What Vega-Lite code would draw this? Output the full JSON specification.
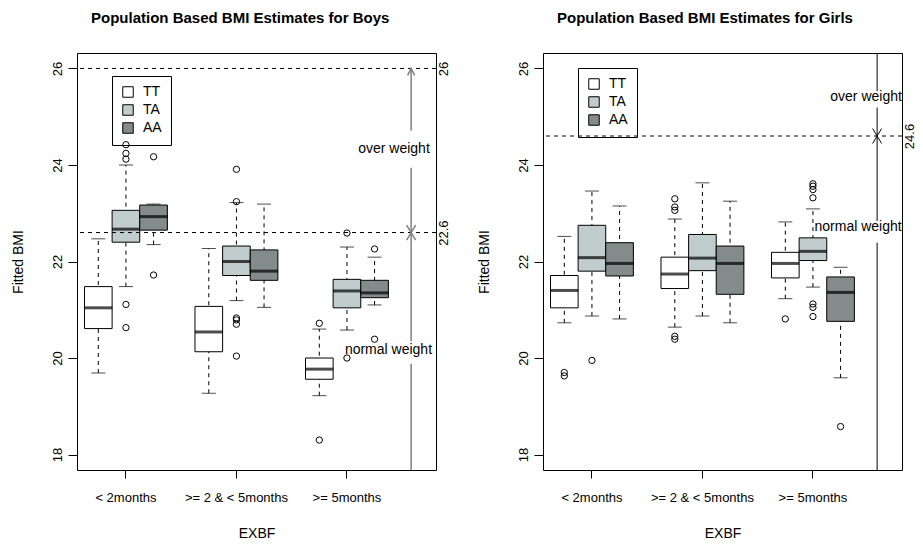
{
  "$schema": "https://vega.github.io/schema/vega-lite/v6.json",
  "background": "white",
  "padding": {"left": 10, "top": 10, "right": 5, "bottom": 5},
  "bounds": "flush",
  "spacing": 107,
  "config": {
    "font": "Liberation Sans",
    "view": {"stroke": "black", "strokeWidth": 1},
    "axis": {"labelFont": "Liberation Sans", "titleFont": "Liberation Sans", "labelColor": "black", "titleColor": "black", "tickColor": "black", "titleFontWeight": "normal", "labelFontSize": 13, "titleFontSize": 14, "grid": false}
  },
  "datasets": {
    "boys": [
      {"EXBF": "< 2months", "genotype": "TT", "lo": 19.69, "q1": 20.61, "med": 21.04, "q3": 21.48, "hi": 22.47},
      {"EXBF": "< 2months", "genotype": "TA", "lo": 21.48, "q1": 22.40, "med": 22.67, "q3": 23.06, "hi": 24.00},
      {"EXBF": "< 2months", "genotype": "AA", "lo": 22.35, "q1": 22.65, "med": 22.93, "q3": 23.17, "hi": 23.19},
      {"EXBF": ">= 2 & < 5months", "genotype": "TT", "lo": 19.27, "q1": 20.13, "med": 20.54, "q3": 21.07, "hi": 22.27},
      {"EXBF": ">= 2 & < 5months", "genotype": "TA", "lo": 21.19, "q1": 21.71, "med": 22.00, "q3": 22.32, "hi": 23.22},
      {"EXBF": ">= 2 & < 5months", "genotype": "AA", "lo": 21.05, "q1": 21.61, "med": 21.80, "q3": 22.24, "hi": 23.19},
      {"EXBF": ">= 5months", "genotype": "TT", "lo": 19.22, "q1": 19.56, "med": 19.77, "q3": 20.00, "hi": 20.60},
      {"EXBF": ">= 5months", "genotype": "TA", "lo": 20.58, "q1": 21.04, "med": 21.39, "q3": 21.63, "hi": 22.30},
      {"EXBF": ">= 5months", "genotype": "AA", "lo": 21.10, "q1": 21.25, "med": 21.35, "q3": 21.61, "hi": 22.09}
    ],
    "boys_out": [
      {"EXBF": "< 2months", "genotype": "TA", "value": 24.42},
      {"EXBF": "< 2months", "genotype": "TA", "value": 24.24},
      {"EXBF": "< 2months", "genotype": "TA", "value": 24.12},
      {"EXBF": "< 2months", "genotype": "TA", "value": 21.11},
      {"EXBF": "< 2months", "genotype": "TA", "value": 20.63},
      {"EXBF": "< 2months", "genotype": "AA", "value": 24.17},
      {"EXBF": "< 2months", "genotype": "AA", "value": 21.72},
      {"EXBF": ">= 2 & < 5months", "genotype": "TA", "value": 23.91},
      {"EXBF": ">= 2 & < 5months", "genotype": "TA", "value": 23.24},
      {"EXBF": ">= 2 & < 5months", "genotype": "TA", "value": 20.83},
      {"EXBF": ">= 2 & < 5months", "genotype": "TA", "value": 20.79},
      {"EXBF": ">= 2 & < 5months", "genotype": "TA", "value": 20.70},
      {"EXBF": ">= 2 & < 5months", "genotype": "TA", "value": 20.04},
      {"EXBF": ">= 5months", "genotype": "TT", "value": 20.72},
      {"EXBF": ">= 5months", "genotype": "TT", "value": 18.30},
      {"EXBF": ">= 5months", "genotype": "TA", "value": 22.59},
      {"EXBF": ">= 5months", "genotype": "TA", "value": 20.00},
      {"EXBF": ">= 5months", "genotype": "AA", "value": 22.26},
      {"EXBF": ">= 5months", "genotype": "AA", "value": 20.39}
    ],
    "girls": [
      {"EXBF": "< 2months", "genotype": "TT", "lo": 20.73, "q1": 21.04, "med": 21.40, "q3": 21.71, "hi": 22.52},
      {"EXBF": "< 2months", "genotype": "TA", "lo": 20.87, "q1": 21.80, "med": 22.08, "q3": 22.75, "hi": 23.46},
      {"EXBF": "< 2months", "genotype": "AA", "lo": 20.81, "q1": 21.70, "med": 21.96, "q3": 22.39, "hi": 23.15},
      {"EXBF": ">= 2 & < 5months", "genotype": "TT", "lo": 20.64, "q1": 21.44, "med": 21.74, "q3": 22.09, "hi": 22.88},
      {"EXBF": ">= 2 & < 5months", "genotype": "TA", "lo": 20.87, "q1": 21.81, "med": 22.07, "q3": 22.56, "hi": 23.63},
      {"EXBF": ">= 2 & < 5months", "genotype": "AA", "lo": 20.73, "q1": 21.32, "med": 21.96, "q3": 22.32, "hi": 23.25},
      {"EXBF": ">= 5months", "genotype": "TT", "lo": 21.23, "q1": 21.66, "med": 21.96, "q3": 22.19, "hi": 22.82},
      {"EXBF": ">= 5months", "genotype": "TA", "lo": 21.47, "q1": 22.02, "med": 22.21, "q3": 22.49, "hi": 23.09},
      {"EXBF": ">= 5months", "genotype": "AA", "lo": 19.59, "q1": 20.76, "med": 21.36, "q3": 21.68, "hi": 21.88}
    ],
    "girls_out": [
      {"EXBF": "< 2months", "genotype": "TT", "value": 19.70},
      {"EXBF": "< 2months", "genotype": "TT", "value": 19.63},
      {"EXBF": "< 2months", "genotype": "TA", "value": 19.95},
      {"EXBF": ">= 2 & < 5months", "genotype": "TT", "value": 23.30},
      {"EXBF": ">= 2 & < 5months", "genotype": "TT", "value": 23.13},
      {"EXBF": ">= 2 & < 5months", "genotype": "TT", "value": 23.06},
      {"EXBF": ">= 2 & < 5months", "genotype": "TT", "value": 20.45},
      {"EXBF": ">= 2 & < 5months", "genotype": "TT", "value": 20.39},
      {"EXBF": ">= 5months", "genotype": "TT", "value": 20.81},
      {"EXBF": ">= 5months", "genotype": "TA", "value": 23.61},
      {"EXBF": ">= 5months", "genotype": "TA", "value": 23.56},
      {"EXBF": ">= 5months", "genotype": "TA", "value": 23.49},
      {"EXBF": ">= 5months", "genotype": "TA", "value": 23.32},
      {"EXBF": ">= 5months", "genotype": "TA", "value": 21.12},
      {"EXBF": ">= 5months", "genotype": "TA", "value": 21.05},
      {"EXBF": ">= 5months", "genotype": "TA", "value": 20.86},
      {"EXBF": ">= 5months", "genotype": "AA", "value": 18.58}
    ],
    "boys_hl": [{"y": 26}, {"y": 22.6}],
    "boys_vseg": [
      {"x": 12.29, "y": 26, "y2": 24.71},
      {"x": 12.29, "y": 23.94, "y2": 22.6},
      {"x": 12.29, "y": 22.6, "y2": 20.35},
      {"x": 12.29, "y": 19.88, "y2": 17.68}
    ],
    "boys_up": [{"x": 12.29, "y": 26}],
    "boys_x": [{"x": 12.29, "y": 22.6}],
    "boys_txt": [
      {"x": 11.67, "y": 24.33, "label": "over weight"},
      {"x": 11.47, "y": 20.17, "label": "normal weight"}
    ],
    "girls_hl": [{"y": 24.6}],
    "girls_vseg": [
      {"x": 12.29, "y": 26.32, "y2": 25.53},
      {"x": 12.29, "y": 25.19, "y2": 22.84},
      {"x": 12.29, "y": 22.39, "y2": 17.68}
    ],
    "girls_x": [{"x": 12.29, "y": 24.6}],
    "girls_txt": [
      {"x": 11.89, "y": 25.41, "label": "over weight"},
      {"x": 11.6, "y": 22.71, "label": "normal weight"}
    ]
  },
  "resolve": {"scale": {"fill": "independent"}, "legend": {"fill": "independent"}},
  "hconcat": [
    {
      "width": 359,
      "height": 417,
      "title": {"text": "Population Based BMI Estimates for Boys", "fontSize": 15, "fontWeight": "bold", "font": "Liberation Sans", "color": "black", "anchor": "start", "frame": "group", "dx": 14, "offset": 27},
      "resolve": {"scale": {"x": "independent", "y": "independent"}, "axis": {"x": "independent", "y": "independent"}},
      "layer": [
        {
          "encoding": {
            "x": {"field": "EXBF", "type": "nominal", "sort": null,
              "scale": {"domain": ["< 2months", ">= 2 & < 5months", ">= 5months"], "paddingInner": 0.25, "paddingOuter": 0.2494, "align": 0.136},
              "axis": {"title": "EXBF", "labelAngle": 0, "domain": false, "tickSize": 8, "labelPadding": 13, "titlePadding": 22, "labelLimit": 300}},
            "xOffset": {"field": "genotype", "type": "nominal", "scale": {"domain": ["TT", "TA", "AA"], "paddingInner": 0, "paddingOuter": 0}}
          },
          "layer": [
            {
              "data": {"name": "boys"},
              "mark": {"type": "rule", "color": "black", "strokeWidth": 1, "strokeDash": [4, 4]},
              "encoding": {
                "y": {"field": "lo", "type": "quantitative", "title": "Fitted BMI",
                  "scale": {"domain": [17.68, 26.32], "nice": false, "zero": false},
                  "axis": {"values": [18, 20, 22, 24, 26], "labelAngle": -90, "domain": false, "tickSize": 9, "labelPadding": 4, "titlePadding": 26}},
                "y2": {"field": "hi"}
              }
            },
            {
              "data": {"name": "boys"},
              "mark": {"type": "tick", "color": "black", "size": 14, "thickness": 1},
              "encoding": {"y": {"field": "lo", "type": "quantitative", "title": "Fitted BMI"}}
            },
            {
              "data": {"name": "boys"},
              "mark": {"type": "tick", "color": "black", "size": 14, "thickness": 1},
              "encoding": {"y": {"field": "hi", "type": "quantitative", "title": "Fitted BMI"}}
            },
            {
              "data": {"name": "boys"},
              "mark": {"type": "bar", "stroke": "black", "strokeWidth": 1},
              "encoding": {
                "y": {"field": "q1", "type": "quantitative", "title": "Fitted BMI"},
                "y2": {"field": "q3"},
                "fill": {"field": "genotype", "type": "nominal",
                  "scale": {"domain": ["TT", "TA", "AA"], "range": ["#ffffff", "#c1cdcd", "#838b8b"]},
                  "legend": {"orient": "none", "legendX": 35, "legendY": 23, "title": null, "strokeColor": "black", "padding": 9, "symbolType": "square", "symbolSize": 110, "symbolStrokeColor": "black", "symbolStrokeWidth": 1, "labelFontSize": 14, "labelFont": "Liberation Sans", "labelColor": "black", "rowPadding": 2, "labelOffset": 8}}
              }
            },
            {
              "data": {"name": "boys"},
              "mark": {"type": "tick", "color": "black", "size": 28, "thickness": 3},
              "encoding": {"y": {"field": "med", "type": "quantitative", "title": "Fitted BMI"}}
            },
            {
              "data": {"name": "boys_out"},
              "mark": {"type": "point", "shape": "circle", "filled": false, "color": "black", "size": 40, "strokeWidth": 1, "opacity": 1},
              "encoding": {"y": {"field": "value", "type": "quantitative", "title": "Fitted BMI"}}
            }
          ]
        },
        {
          "layer": [
            {
              "data": {"name": "boys_hl"},
              "mark": {"type": "rule", "color": "black", "strokeWidth": 1, "strokeDash": [4, 4]},
              "encoding": {
                "y": {"field": "y", "type": "quantitative", "title": null,
                  "scale": {"domain": [17.68, 26.32], "nice": false, "zero": false},
                  "axis": {"orient": "right", "values": [22.6, 26], "labelExpr": "'' + datum.value", "ticks": false, "domain": false, "labelAngle": -90, "labelPadding": 1, "title": null}}
              }
            },
            {
              "data": {"name": "boys_vseg"},
              "mark": {"type": "rule", "color": "#808080", "strokeWidth": 1.5},
              "encoding": {
                "x": {"field": "x", "type": "quantitative", "scale": {"domain": [0.2, 13.19], "nice": false, "zero": false}, "axis": null},
                "y": {"field": "y", "type": "quantitative", "title": null},
                "y2": {"field": "y2"}
              }
            },
            {
              "data": {"name": "boys_up"},
              "mark": {"type": "point", "shape": "M-0.5,1L0,0L0.5,1", "filled": false, "stroke": "#808080", "strokeWidth": 1.5, "size": 196, "opacity": 1},
              "encoding": {
                "x": {"field": "x", "type": "quantitative"},
                "y": {"field": "y", "type": "quantitative", "title": null}
              }
            },
            {
              "data": {"name": "boys_x"},
              "mark": {"type": "point", "shape": "M-0.6,-1L0.6,1M0.6,-1L-0.6,1", "filled": false, "stroke": "#808080", "strokeWidth": 1.5, "size": 225, "opacity": 1},
              "encoding": {
                "x": {"field": "x", "type": "quantitative"},
                "y": {"field": "y", "type": "quantitative", "title": null}
              }
            },
            {
              "data": {"name": "boys_txt"},
              "mark": {"type": "text", "font": "Liberation Sans", "fontSize": 14, "color": "black", "align": "center", "baseline": "middle", "clip": true},
              "encoding": {
                "x": {"field": "x", "type": "quantitative"},
                "y": {"field": "y", "type": "quantitative", "title": null},
                "text": {"field": "label"}
              }
            }
          ]
        }
      ]
    },
    {
      "width": 359,
      "height": 417,
      "title": {"text": "Population Based BMI Estimates for Girls", "fontSize": 15, "fontWeight": "bold", "font": "Liberation Sans", "color": "black", "anchor": "start", "frame": "group", "dx": 14, "offset": 27},
      "resolve": {"scale": {"x": "independent", "y": "independent"}, "axis": {"x": "independent", "y": "independent"}},
      "layer": [
        {
          "encoding": {
            "x": {"field": "EXBF", "type": "nominal", "sort": null,
              "scale": {"domain": ["< 2months", ">= 2 & < 5months", ">= 5months"], "paddingInner": 0.25, "paddingOuter": 0.2494, "align": 0.136},
              "axis": {"title": "EXBF", "labelAngle": 0, "domain": false, "tickSize": 8, "labelPadding": 13, "titlePadding": 22, "labelLimit": 300}},
            "xOffset": {"field": "genotype", "type": "nominal", "scale": {"domain": ["TT", "TA", "AA"], "paddingInner": 0, "paddingOuter": 0}}
          },
          "layer": [
            {
              "data": {"name": "girls"},
              "mark": {"type": "rule", "color": "black", "strokeWidth": 1, "strokeDash": [4, 4]},
              "encoding": {
                "y": {"field": "lo", "type": "quantitative", "title": "Fitted BMI",
                  "scale": {"domain": [17.68, 26.32], "nice": false, "zero": false},
                  "axis": {"values": [18, 20, 22, 24, 26], "labelAngle": -90, "domain": false, "tickSize": 9, "labelPadding": 4, "titlePadding": 26}},
                "y2": {"field": "hi"}
              }
            },
            {
              "data": {"name": "girls"},
              "mark": {"type": "tick", "color": "black", "size": 14, "thickness": 1},
              "encoding": {"y": {"field": "lo", "type": "quantitative", "title": "Fitted BMI"}}
            },
            {
              "data": {"name": "girls"},
              "mark": {"type": "tick", "color": "black", "size": 14, "thickness": 1},
              "encoding": {"y": {"field": "hi", "type": "quantitative", "title": "Fitted BMI"}}
            },
            {
              "data": {"name": "girls"},
              "mark": {"type": "bar", "stroke": "black", "strokeWidth": 1},
              "encoding": {
                "y": {"field": "q1", "type": "quantitative", "title": "Fitted BMI"},
                "y2": {"field": "q3"},
                "fill": {"field": "genotype", "type": "nominal",
                  "scale": {"domain": ["TT", "TA", "AA"], "range": ["#ffffff", "#c1cdcd", "#838b8b"]},
                  "legend": {"orient": "none", "legendX": 35, "legendY": 15, "title": null, "strokeColor": "black", "padding": 9, "symbolType": "square", "symbolSize": 110, "symbolStrokeColor": "black", "symbolStrokeWidth": 1, "labelFontSize": 14, "labelFont": "Liberation Sans", "labelColor": "black", "rowPadding": 2, "labelOffset": 8}}
              }
            },
            {
              "data": {"name": "girls"},
              "mark": {"type": "tick", "color": "black", "size": 28, "thickness": 3},
              "encoding": {"y": {"field": "med", "type": "quantitative", "title": "Fitted BMI"}}
            },
            {
              "data": {"name": "girls_out"},
              "mark": {"type": "point", "shape": "circle", "filled": false, "color": "black", "size": 40, "strokeWidth": 1, "opacity": 1},
              "encoding": {"y": {"field": "value", "type": "quantitative", "title": "Fitted BMI"}}
            }
          ]
        },
        {
          "layer": [
            {
              "data": {"name": "girls_hl"},
              "mark": {"type": "rule", "color": "black", "strokeWidth": 1, "strokeDash": [4, 4]},
              "encoding": {
                "y": {"field": "y", "type": "quantitative", "title": null,
                  "scale": {"domain": [17.68, 26.32], "nice": false, "zero": false},
                  "axis": {"orient": "right", "values": [24.6], "labelExpr": "'' + datum.value", "ticks": false, "domain": false, "labelAngle": -90, "labelPadding": 1, "title": null}}
              }
            },
            {
              "data": {"name": "girls_vseg"},
              "mark": {"type": "rule", "color": "black", "strokeWidth": 1},
              "encoding": {
                "x": {"field": "x", "type": "quantitative", "scale": {"domain": [0.2, 13.19], "nice": false, "zero": false}, "axis": null},
                "y": {"field": "y", "type": "quantitative", "title": null},
                "y2": {"field": "y2"}
              }
            },
            {
              "data": {"name": "girls_x"},
              "mark": {"type": "point", "shape": "M-0.6,-1L0.6,1M0.6,-1L-0.6,1", "filled": false, "stroke": "black", "strokeWidth": 1, "size": 225, "opacity": 1},
              "encoding": {
                "x": {"field": "x", "type": "quantitative"},
                "y": {"field": "y", "type": "quantitative", "title": null}
              }
            },
            {
              "data": {"name": "girls_txt"},
              "mark": {"type": "text", "font": "Liberation Sans", "fontSize": 14, "color": "black", "align": "center", "baseline": "middle", "clip": true},
              "encoding": {
                "x": {"field": "x", "type": "quantitative"},
                "y": {"field": "y", "type": "quantitative", "title": null},
                "text": {"field": "label"}
              }
            }
          ]
        }
      ]
    }
  ]
}
